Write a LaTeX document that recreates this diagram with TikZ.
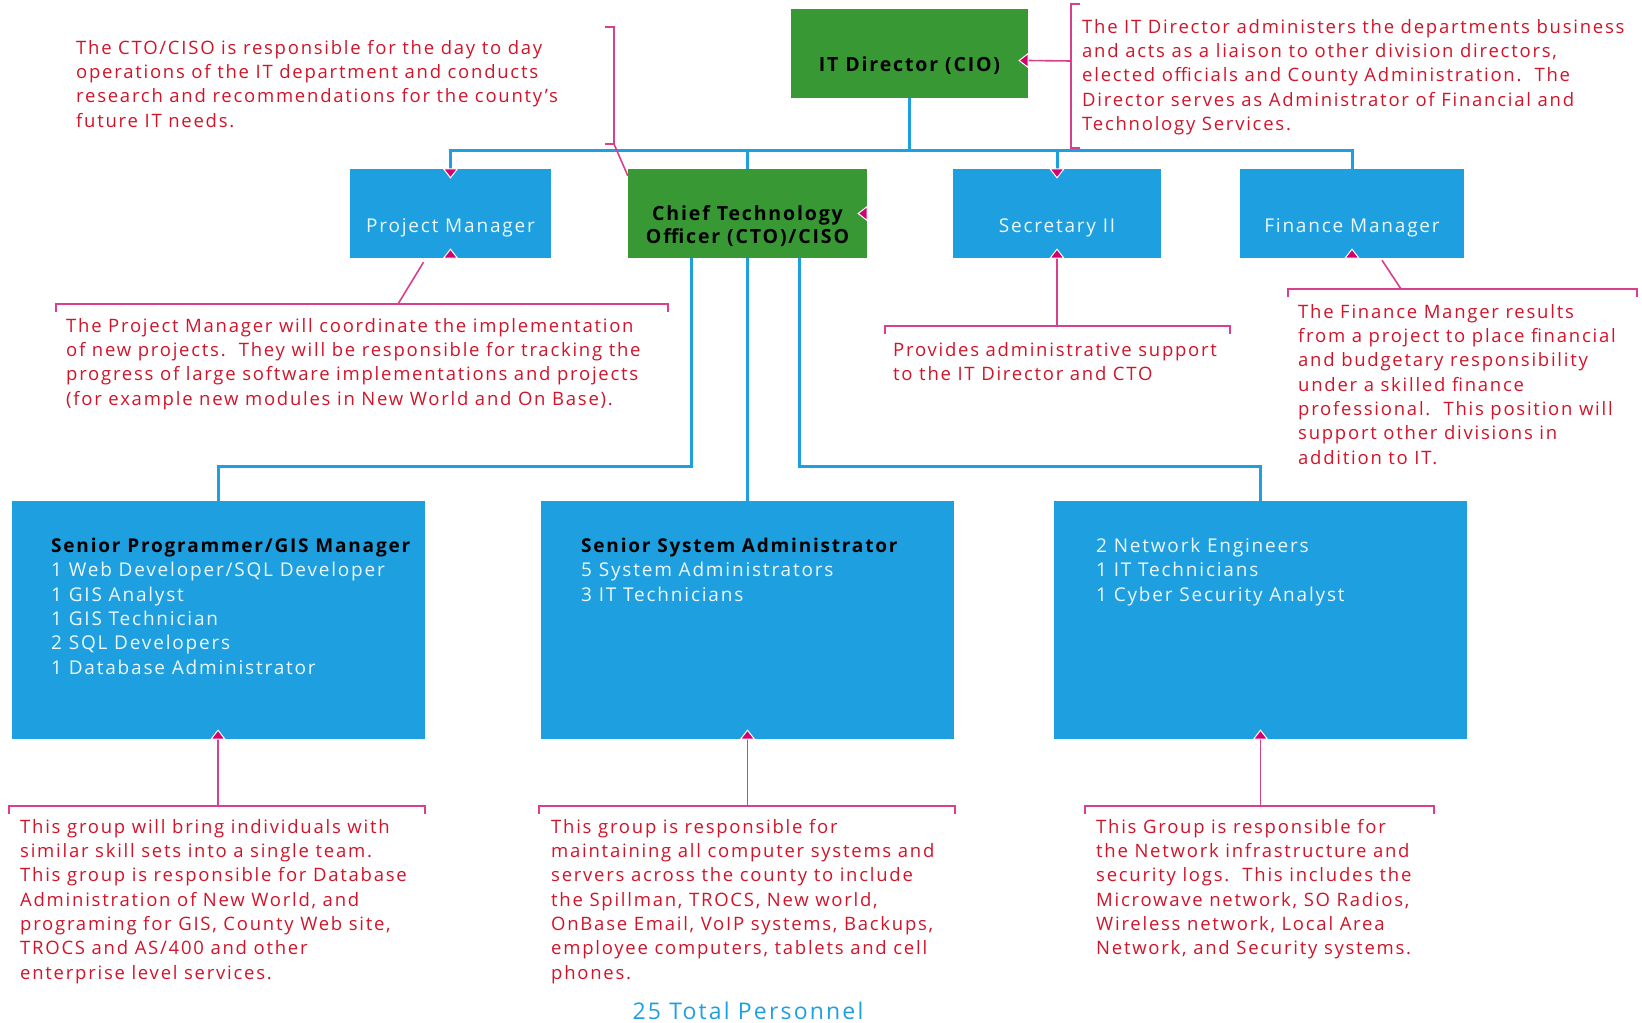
\documentclass[tikz,border=0pt]{standalone}
\usepackage{fontspec}
\setmainfont{Open Sans}[LetterSpace=9.5]
\usetikzlibrary{arrows.meta,calc}
\definecolor{orgblue}{RGB}{30,160,224}
\definecolor{orggreen}{RGB}{55,152,52}
\definecolor{notered}{RGB}{208,20,42}
\definecolor{calloutpink}{RGB}{218,62,140}
\definecolor{tipmagenta}{RGB}{214,0,110}

\begin{document}
\begin{tikzpicture}[x=1pt, y=-1pt,
    bus/.style={draw=orgblue, line width=3pt},
    callout/.style={draw=calloutpink, line width=1.6pt},
    chief/.style={fill=orggreen, minimum height=89pt, inner sep=0pt, align=center,
      text height=41pt, text depth=5pt, font=\fontsize{19.5}{23}\selectfont\bfseries},
    staff/.style={fill=orgblue, minimum height=89pt, inner sep=0pt, text height=42pt, text depth=5pt,
      text=white!92!orgblue, font=\fontsize{19}{23}\selectfont},
    team/.style={fill=orgblue, minimum width=413pt, minimum height=238pt, inner sep=0pt},
    teamtext/.style={anchor=north west, inner sep=0pt, align=left,
      text=white!92!orgblue, font=\fontsize{19}{24.3}\selectfont},
    note/.style={anchor=north west, inner sep=0pt, align=left, text=notered,
      font=\fontsize{18.5}{24.3}\selectfont},
    tipmark/.pic={\fill[tipmagenta, draw=white, line width=1pt] (-7,0) -- (0,-9) -- (7,0) -- cycle;}]
   \def\Yg{806}
   \def\Tk{8}
   \useasboundingbox (0,0) rectangle (1642,1023);

        % boxes
        \node[chief, minimum width=237pt] (cio) at (909.5,53.5) {IT Director (CIO)};
        \node[staff, minimum width=201pt] (pm) at (450.5,213.5) {Project Manager};
        \node[chief, minimum width=239pt, text height=65pt, text depth=5pt] (cto) at (747.5,213.5) {Chief Technology\\Officer (CTO)/CISO};
        \node[staff, minimum width=208pt] (sec) at (1057,213.5) {Secretary II};
        \node[staff, minimum width=224pt] (fin) at (1352,213.5) {Finance Manager};
        \node[team] (grp1) at (218,620) {};
        \node[team] (grp2) at (747.5,620) {};
        \node[team] (grp3) at (1260.5,620) {};
        \node[teamtext] (grp1txt) at (51,538) {{\color{black}\bfseries Senior Programmer/GIS Manager}\\
          1 Web Developer/SQL Developer\\1 GIS Analyst\\1 GIS Technician\\2 SQL Developers\\1 Database Administrator};
        \node[teamtext] (grp2txt) at (581,538) {{\color{black}\bfseries Senior System Administrator}\\
          5 System Administrators\\3 IT Technicians};
        \node[teamtext] (grp3txt) at (1096,538) {2 Network Engineers\\1 IT Technicians\\1 Cyber Security Analyst};

        % reporting lines
        \coordinate (bus) at (909.5,150);
        \draw[bus] (cio.south) -- (bus);
        \draw[bus] (pm.north) |- (bus) -| (fin.north);
        \draw[bus] (cto.north) -- (cto.north |- bus);
        \draw[bus] (sec.north) -- (sec.north |- bus);
        \draw[bus] ([xshift=-56pt]cto.south) -- ++(0,208) -| (grp1.north);
        \draw[bus] (cto.south) -- (grp2.north);
        \draw[bus] ([xshift=52pt]cto.south) -- ++(0,208) -| (grp3.north);

        % callout brackets
        \coordinate (ctoB) at (614,144);
        \coordinate (cioB) at (1071,61);
        \coordinate (pmB) at (398,304);
        \coordinate (secB) at (1057,326);
        \coordinate (finB) at (1401,289);
        \draw[callout] (605,27) -- (614,27) -- (ctoB) -- (605,144);
        \draw[callout] (ctoB) -- ([yshift=-7pt]cto.north west);
        \draw[callout] (1080,4) -- (1071,4) -- (1071,148) -- (1080,148);
        \draw[callout] (cioB) -- ([yshift=-7pt]cio.east);
        \draw[callout] (56,304+\Tk) -- (56,304) -- (668,304) -- (668,304+\Tk);
        \draw[callout] ([shift={(-27pt,-4pt)}]pm.south) -- (pmB);
        \draw[callout] (885,326+\Tk) -- (885,326) -- (1230,326) -- (1230,326+\Tk);
        \draw[callout] (secB) -- (sec.south);
        \draw[callout] (1288,289+\Tk) -- (1288,289) -- (1637,289) -- (1637,289+\Tk);
        \draw[callout] ([shift={(30pt,-2pt)}]fin.south) -- (finB);
        \foreach \g/\a/\b in {grp1/9/425, grp2/539/955, grp3/1085/1434} {
          \coordinate (\g B) at (\g.south |- 0,\Yg);
          \draw[callout] (\a,\Yg+\Tk) -- (\a,\Yg) -- (\b,\Yg) -- (\b,\Yg+\Tk);
          \draw[callout] (\g B) -- (\g.south);
        }

        % dots
        \pic[rotate=180] at (pm.north) {tipmark};
        \pic[rotate=180] at (sec.north) {tipmark};
        \pic[rotate=90] at ([yshift=-7pt]cio.east) {tipmark};
        \pic[rotate=90] at (cto.east) {tipmark};
        \foreach \g in {pm,sec,fin,grp1,grp2,grp3}
          \pic at (\g.south) {tipmark};

        % labels
        \node[note] (ctonote) at (76,40) {The CTO/CISO is responsible for the day to day\\
          operations of the IT department and conducts\\research and recommendations for the county's\\future IT needs.};
        \node[note] (cionote) at (1082,19) {The IT Director administers the departments business\\
          and acts as a liaison to other division directors,\\elected officials and County Administration.\ \ The\\
          Director serves as Administrator of Financial and\\Technology Services.};
        \node[note] (pmnote) at (66,318) {The Project Manager will coordinate the implementation\\
          of new projects.\ \ They will be responsible for tracking the\\progress of large software implementations and projects\\
          (for example new modules in New World and On Base).};
        \node[note] (secnote) at (893,342) {Provides administrative support\\to the IT Director and CTO};
        \node[note] (finnote) at (1298,304) {The Finance Manger results\\from a project to place financial\\
          and budgetary responsibility\\under a skilled finance\\professional.\ \ This position will\\
          support other divisions in\\addition to IT.};
        \node[note] (grp1note) at (20,819) {This group will bring individuals with\\similar skill sets into a single team.\\
          This group is responsible for Database\\Administration of New World, and\\programing for GIS, County Web site,\\
          TROCS and AS/400 and other\\enterprise level services.};
        \node[note] (grp2note) at (551,819) {This group is responsible for\\maintaining all computer systems and\\
          servers across the county to include\\the Spillman, TROCS, New world,\\OnBase Email, VoIP systems, Backups,\\
          employee computers, tablets and cell\\phones.};
        \node[note] (grp3note) at (1096,819) {This Group is responsible for\\the Network infrastructure and\\
          security logs.\ \ This includes the\\Microwave network, SO Radios,\\Wireless network, Local Area\\
          Network, and Security systems.};
        \node[text=orgblue, font=\fontsize{23}{26}\selectfont] (total) at (748,1011) {25 Total Personnel};
\end{tikzpicture}
\end{document}
